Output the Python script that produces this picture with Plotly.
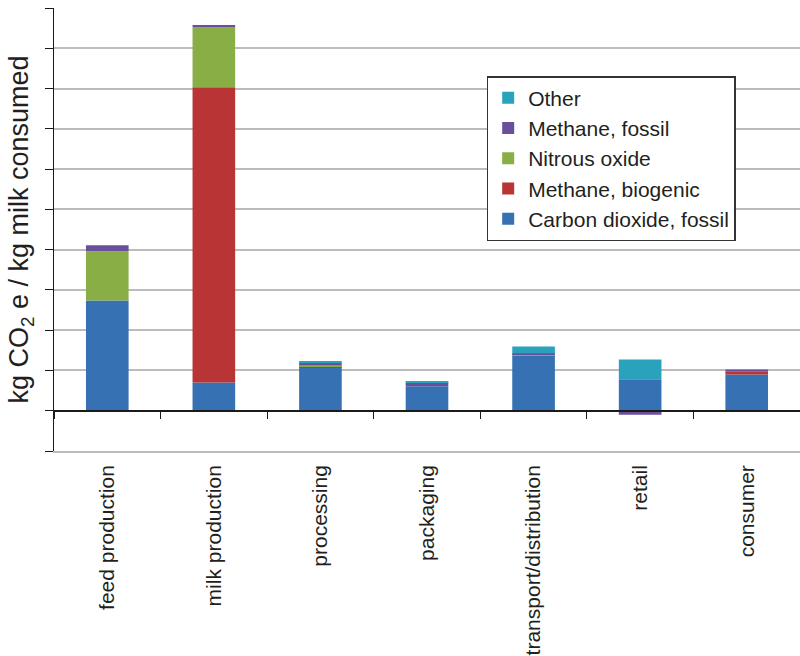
import plotly.graph_objects as go

# Life-cycle stages of fluid milk
stages = ["feed production", "milk production", "processing", "packaging",
          "transport/distribution", "retail", "consumer"]

# Emissions by gas, kg CO2 e per kg milk consumed
co2_fossil = [0.274, 0.070, 0.107, 0.061, 0.1375, 0.078, 0.090]
methane_biogenic = [0.0, 0.733, 0.002, 0.0, 0.0, 0.0, 0.0065]
nitrous_oxide = [0.122, 0.150, 0.004, 0.0, 0.003, 0.0, 0.0]
methane_fossil = [0.015, 0.005, 0.006, 0.010, 0.002, -0.010, 0.006]
other = [0.0, 0.0, 0.004, 0.002, 0.017, 0.0495, 0.0]

series = [
    ("Carbon dioxide, fossil", co2_fossil, "#3571b3"),
    ("Methane, biogenic", methane_biogenic, "#b93535"),
    ("Nitrous oxide", nitrous_oxide, "#89ae45"),
    ("Methane, fossil", methane_fossil, "#6a4f9c"),
    ("Other", other, "#2aa2bb"),
]

FONT = "Liberation Sans, Arial, Helvetica, sans-serif"
TEXT = "#231f20"

fig = go.Figure()
for name, vals, color in series:
    fig.add_trace(go.Bar(
        x=stages, y=vals, name=name,
        marker=dict(color=color, line=dict(width=0)),
    ))

# invisible carrier for the baseline axis drawn at y = 0
fig.add_trace(go.Scatter(
    x=stages, y=[0] * len(stages), xaxis="x2", yaxis="y",
    mode="markers", marker=dict(opacity=0), showlegend=False, hoverinfo="skip",
))

y_min, y_max = -0.1, 1.0

fig.update_layout(
    width=800, height=656,
    margin=dict(l=54, r=0, t=8, b=205),
    paper_bgcolor="white", plot_bgcolor="white",
    barmode="relative", bargap=0.6,
    font=dict(family=FONT, color=TEXT),
    xaxis=dict(
        type="category", range=[-0.5, 6.5],
        showline=True, linecolor="#bcbcbc", linewidth=1.5,
        ticks="", ticklabelstandoff=4,
        showgrid=False, zeroline=False, tickangle=-90,
        tickfont=dict(size=21, color=TEXT),
    ),
    xaxis2=dict(
        type="category", overlaying="x", matches="x", anchor="free",
        position=(0 - y_min) / (y_max - y_min),
        showline=True, linecolor="#1a1a1a", linewidth=1.5,
        ticks="outside", ticklen=8, tickwidth=1.3, tickcolor="#1a1a1a",
        tickson="boundaries", showticklabels=False, showgrid=False,
    ),
    yaxis=dict(
        range=[y_min, y_max], tick0=0, dtick=0.1, showticklabels=False,
        ticks="outside", ticklen=8, tickwidth=1.3, tickcolor="#1a1a1a",
        showline=True, linecolor="#1a1a1a", linewidth=1.3,
        showgrid=True, gridcolor="#bcbcbc", gridwidth=1.5, zeroline=False,
        title=dict(text="kg CO<sub>2</sub> e / kg milk consumed",
                   font=dict(size=27, color=TEXT), standoff=8),
    ),
    legend=dict(
        x=0.580, y=0.8465, xanchor="left", yanchor="top",
        traceorder="reversed", bgcolor="white",
        bordercolor="#333333", borderwidth=1.5,
        font=dict(size=21, color=TEXT), tracegroupgap=0,
        itemwidth=30,
    ),
)

fig.write_html("out.html")
